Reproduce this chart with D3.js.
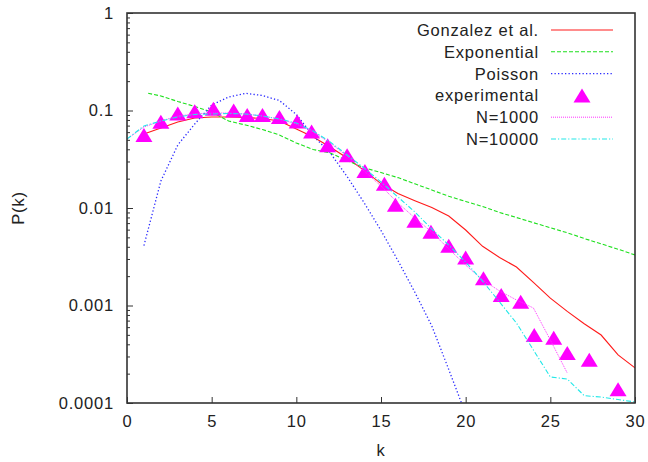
<!DOCTYPE html>
<html>
<head>
<meta charset="utf-8">
<script src="https://cdn.jsdelivr.net/npm/d3@7"></script>
<style>
  html, body { margin: 0; padding: 0; background: #fff; }
  svg { display: block; font-family: "Liberation Sans", Arial, Helvetica, sans-serif; }
  svg text { letter-spacing: 0.8px; }
</style>
</head>
<body>
<svg id="chart" width="648" height="462"></svg>
<script>
// Degree distribution P(k): models, measured points and simulations

// Gonzalez et al. model
const kGonzalez = [1,2,3,4,5,6,7,8,9,10,11,12,13,14,15,16,17,18,19,20,21,22,23,24,25,26,27,28,29,30];
const pGonzalez = [0.0574,0.0662,0.0762,0.0838,0.0858,0.0858,0.0848,0.0828,0.0780,0.0646,0.0535,0.0422,0.0326,0.0243,0.0178,0.0141,0.0119,0.0101,0.00828,0.00595,0.00405,0.00311,0.00248,0.00173,0.00119,0.00087,0.00065,0.000498,0.000311,0.000229];

// Exponential fit
const kExponential = [1.25,2,3,4,5,6,7,8,9,10,11,12,13,14,15,16,17,18,19,20,21,22,23,24,25,26,27,28,29,30];
const pExponential = [0.150,0.141,0.1237,0.110,0.0965,0.0780,0.0710,0.0638,0.0561,0.0464,0.0398,0.0367,0.0306,0.0259,0.0231,0.0205,0.0177,0.0153,0.0132,0.01166,0.01036,0.00899,0.00799,0.00707,0.00628,0.00557,0.00487,0.00429,0.00378,0.00330];

// Poisson
const kPoisson = [1,2,3,4,5,6,7,8,9,10,11,12,13,14,15,16,17,18,19,20];
const pPoisson = [0.00412,0.0189,0.0443,0.0727,0.1139,0.1376,0.150,0.1425,0.1266,0.0910,0.0548,0.0367,0.0210,0.01134,0.00588,0.00289,0.001366,0.000616,0.000221,0.0000771];

// Experimental points
const kExperimental = [1,2,3,4,5.1,6.3,7.1,8,9,10.05,10.9,11.85,13,14.05,15.2,15.85,17,17.95,19,20,21.05,22.1,23.25,24.05,25.2,26,27.3,29];
const pExperimental = [0.056,0.0767,0.093,0.098,0.104,0.100,0.090,0.090,0.086,0.077,0.061,0.044,0.0347,0.0239,0.0177,0.0108,0.0074,0.0057,0.0041,0.0031,0.0019,0.00128,0.00109,0.000498,0.000468,0.000326,0.000278,0.000138];

// Simulation, N=1000
const kN1000 = [0,1,2,3,4,5,6,7,8,9,10,11,12,13,14,15,16,17,18,19,20,21,22,23,24,25,26];
const pN1000 = [0.0510,0.0677,0.0780,0.0878,0.0921,0.0943,0.0943,0.0921,0.0878,0.0818,0.0727,0.0602,0.0464,0.0341,0.0240,0.0168,0.01126,0.00790,0.00567,0.00380,0.00260,0.00183,0.00141,0.00114,0.000943,0.000443,0.000203];

// Simulation, N=10000
const kN10000 = [0,1,2,3,4,5,6,7,8,9,10,11,12,13,14,15,16,17,18,19,20,21,22,23,24,25,26,27,28,29,30];
const pN10000 = [0.0510,0.0694,0.0780,0.0858,0.0910,0.0921,0.0932,0.0921,0.0878,0.0818,0.0744,0.0616,0.0475,0.0350,0.0257,0.0185,0.01297,0.0091,0.00609,0.00417,0.00279,0.00178,0.001086,0.000661,0.000350,0.000185,0.000176,0.000119,0.000115,0.0001086,0.0001024];

const xTicks = [0,5,10,15,20,25,30];
const yTicks = [1,0.1,0.01,0.001,0.0001];
const yTickLabels = ["1","0.1","0.01","0.001","0.0001"];

const legendLabels = ["Gonzalez et al.","Exponential","Poisson","experimental","N=1000","N=10000"];

const svg = d3.select("#chart");
const plotLeft = 127, plotRight = 635, plotTop = 13, plotBottom = 403;
const fontSize = 16.5;

const x = d3.scaleLinear().domain([0,30]).range([plotLeft,plotRight]);
const y = d3.scaleLog().domain([1e-4,1]).range([plotBottom,plotTop]);

const textColor = "#222";
const axisColor = "#333";

svg.append("defs").append("clipPath").attr("id","plotclip")
  .append("rect").attr("x",plotLeft).attr("y",plotTop)
  .attr("width",plotRight-plotLeft).attr("height",plotBottom-plotTop);

// minor log ticks
const minor = [];
[1e-4,1e-3,1e-2,1e-1].forEach(d => { for (let m=2;m<10;m++) minor.push(d*m); });
svg.append("g").attr("transform",`translate(${plotLeft},0)`)
  .call(d3.axisLeft(y).tickValues(minor).tickSizeInner(-3).tickSizeOuter(0).tickFormat(""))
  .call(g => g.select(".domain").remove())
  .call(g => g.selectAll("line").attr("stroke",axisColor));

// y axis
svg.append("g").attr("transform",`translate(${plotLeft},0)`)
  .call(d3.axisLeft(y).tickValues(yTicks).tickSizeInner(-6).tickSizeOuter(0).tickPadding(13)
        .tickFormat((d,i) => yTickLabels[i]))
  .call(g => g.select(".domain").remove())
  .call(g => g.selectAll("line").attr("stroke",axisColor))
  .call(g => g.selectAll("text").attr("font-size",fontSize).attr("fill",textColor)
        .attr("font-family","Liberation Sans, Arial, sans-serif"));

// x axis
svg.append("g").attr("transform",`translate(0,${plotBottom})`)
  .call(d3.axisBottom(x).tickValues(xTicks).tickSizeInner(-6).tickSizeOuter(0).tickPadding(12))
  .call(g => g.select(".domain").remove())
  .call(g => g.selectAll("line").attr("stroke",axisColor))
  .call(g => g.selectAll("text").attr("font-size",fontSize).attr("fill",textColor)
        .attr("font-family","Liberation Sans, Arial, sans-serif"));

// axis titles
svg.append("text").attr("x",(plotLeft+plotRight)/2).attr("y",456).attr("text-anchor","middle")
  .attr("font-size",fontSize).attr("fill",textColor).text("k");
svg.append("text").attr("transform",`translate(24,${(plotTop+plotBottom)/2}) rotate(-90)`)
  .attr("text-anchor","middle").attr("font-size",fontSize).attr("fill",textColor).text("P(k)");

const line = d3.line().x(d => x(d[0])).y(d => y(d[1]));
const plot = svg.append("g").attr("clip-path","url(#plotclip)");

const styles = [
  {color:"#ff1a1a", dash:null, width:1.1},
  {color:"#1ee01e", dash:"4,2", width:1.1},
  {color:"#2a2aff", dash:"1.3,2.2", width:1.3},
  null,
  {color:"#ff33ff", dash:"1,1", width:1},
  {color:"#22e8e8", dash:"5,2,1.2,2", width:1.1}
];

function drawSeries(ks, ps, st) {
  plot.append("path").datum(ks.map((k,i) => [k, ps[i]]))
    .attr("fill","none").attr("stroke",st.color).attr("stroke-width",st.width)
    .attr("stroke-dasharray",st.dash).attr("d",line);
}

drawSeries(kGonzalez, pGonzalez, styles[0]);
drawSeries(kExponential, pExponential, styles[1]);
drawSeries(kPoisson, pPoisson, styles[2]);

function trianglePath(cx, cy) {
  const w = 17, h = 14;
  return `M${cx},${cy-h/2}L${cx+w/2},${cy+h/2}L${cx-w/2},${cy+h/2}Z`;
}
plot.selectAll("path.pt").data(kExperimental.map((k,i) => [k,pExperimental[i]]))
  .enter().append("path").attr("class","pt")
  .attr("d", d => trianglePath(x(d[0]), y(d[1])))
  .attr("fill","#ff00ff");

drawSeries(kN1000, pN1000, styles[4]);
drawSeries(kN10000, pN10000, styles[5]);

// legend
const legend = svg.append("g");
legendLabels.forEach((lab,i) => {
  const yy = 30 + i*21.8;
  legend.append("text").attr("x",539).attr("y",yy).attr("dy","0.36em")
    .attr("text-anchor","end").attr("font-size",fontSize).attr("fill",textColor).text(lab);
  if (styles[i]) {
    legend.append("line").attr("x1",551).attr("x2",613).attr("y1",yy).attr("y2",yy)
      .attr("stroke",styles[i].color).attr("stroke-width",styles[i].width)
      .attr("stroke-dasharray",styles[i].dash);
  } else {
    legend.append("path").attr("d",trianglePath(582,yy)).attr("fill","#ff00ff");
  }
});

// frame
svg.append("rect").attr("x",plotLeft).attr("y",plotTop)
  .attr("width",plotRight-plotLeft).attr("height",plotBottom-plotTop)
  .attr("fill","none").attr("stroke",axisColor).attr("stroke-width",1.6);
</script>
</body>
</html>
